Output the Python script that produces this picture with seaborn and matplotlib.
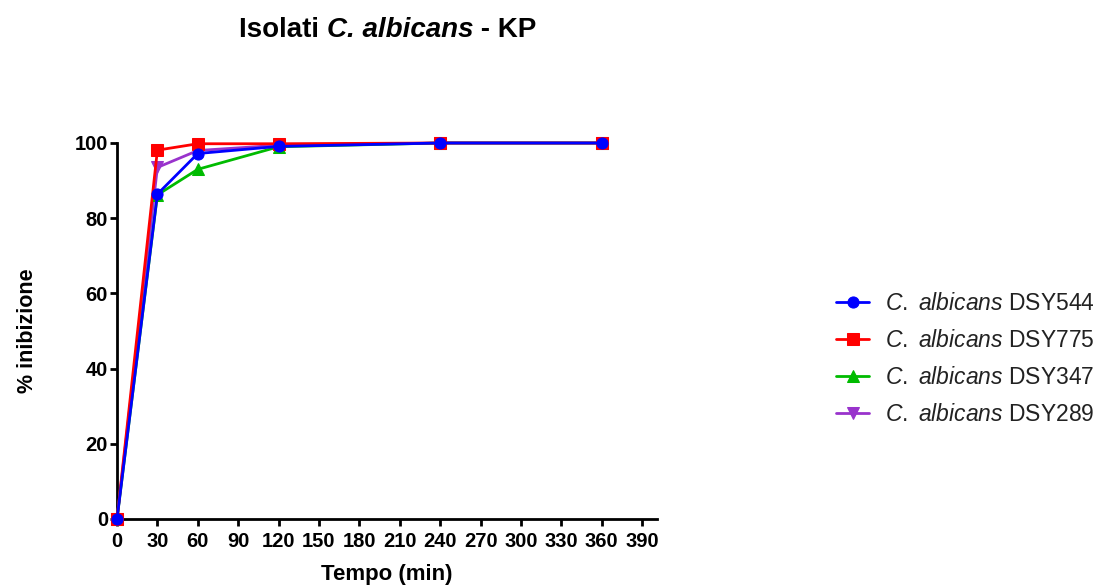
import matplotlib
matplotlib.use("Agg")
import matplotlib.pyplot as plt
import seaborn as sns
import pandas as pd

sns.set_theme(style="white")
plt.rcParams['font.family'] = ['Liberation Sans', 'DejaVu Sans']
plt.rcParams['mathtext.fontset'] = 'custom'
plt.rcParams['mathtext.it'] = 'Liberation Sans:italic'
plt.rcParams['mathtext.rm'] = 'Liberation Sans'
plt.rcParams['text.color'] = 'black'
plt.rcParams['axes.labelcolor'] = 'black'
plt.rcParams['xtick.color'] = 'black'
plt.rcParams['ytick.color'] = 'black'

time_min = [0, 30, 60, 120, 240, 360]
series_names = ["DSY544", "DSY775", "DSY347", "DSY289"]
dsy544 = [0, 86.4, 97.2, 99.1, 100, 100]
dsy775 = [0, 98.1, 99.8, 99.8, 100, 100]
dsy347 = [0, 86.2, 93.0, 99.0, 100, 100]
dsy289 = [0, 93.5, 98.0, 99.4, 100, 100]
x_ticks = list(range(0, 391, 30))
y_ticks = [0, 20, 40, 60, 80, 100]

values = [dsy544, dsy775, dsy347, dsy289]
colors = ["#0000FF", "#FF0000", "#00BB00", "#9933CC"]
markers = ["o", "s", "^", "v"]
zorders = [10, 9, 8, 7]

fig = plt.figure(figsize=(11.05, 5.88), dpi=100)
ax = fig.add_axes([117/1105, 1-519/588, 540/1105, 376/588])

for name, vals, c, m, z in zip(series_names, values, colors, markers, zorders):
    df = pd.DataFrame({"t": time_min, "v": vals})
    sns.lineplot(data=df, x="t", y="v", ax=ax, color=c, marker=m, markersize=8,
                 markeredgecolor=c, linewidth=2, label=r"$\it{C.}$ $\it{albicans}$ " + name,
                 zorder=z, clip_on=False)

ax.set_xlim(0, 401)
ax.set_ylim(0, 100)
ax.set_xticks(x_ticks)
ax.set_yticks(y_ticks)
for s in ["top", "right"]:
    ax.spines[s].set_visible(False)
for s in ["left", "bottom"]:
    ax.spines[s].set_linewidth(2)
    ax.spines[s].set_color("black")
ax.tick_params(axis="both", direction="out", length=5, width=2, color="black",
               labelsize=14.5, bottom=True, left=True)
ax.tick_params(axis="x", pad=4.5)
ax.tick_params(axis="y", pad=1.5)
for lab in ax.get_xticklabels() + ax.get_yticklabels():
    lab.set_fontweight("bold")
ax.set_xlabel("Tempo (min)", fontsize=16, fontweight="bold", labelpad=9)
ax.set_ylabel("% inibizione", fontsize=15.5, fontweight="bold", labelpad=26)
ax.grid(False)

leg = ax.legend(loc="center left", bbox_to_anchor=(836/1105, 1-359/588),
                bbox_transform=fig.transFigure, frameon=False, fontsize=16.5,
                handlelength=1.45, handletextpad=0.7, labelspacing=0.62,
                borderaxespad=0, borderpad=0)
for t in leg.get_texts():
    t.set_color("#222222")

# Title with mixed styles
fig.canvas.draw()
renderer = fig.canvas.get_renderer()
parts = [("Isolati ", "normal"), ("C. albicans", "italic"), (" - KP", "normal")]
texts = []
for s, st in parts:
    texts.append(fig.text(0, 0, s, fontsize=20, fontweight="bold", style=st,
                          ha="left", va="baseline"))
widths = [t.get_window_extent(renderer).width for t in texts]
total = sum(widths)
x0 = 388 - total / 2
ybase = 588 - 37
for t, w in zip(texts, widths):
    t.set_position((x0 / 1105, ybase / 588))
    x0 += w

fig.savefig("out.png", dpi=100)
